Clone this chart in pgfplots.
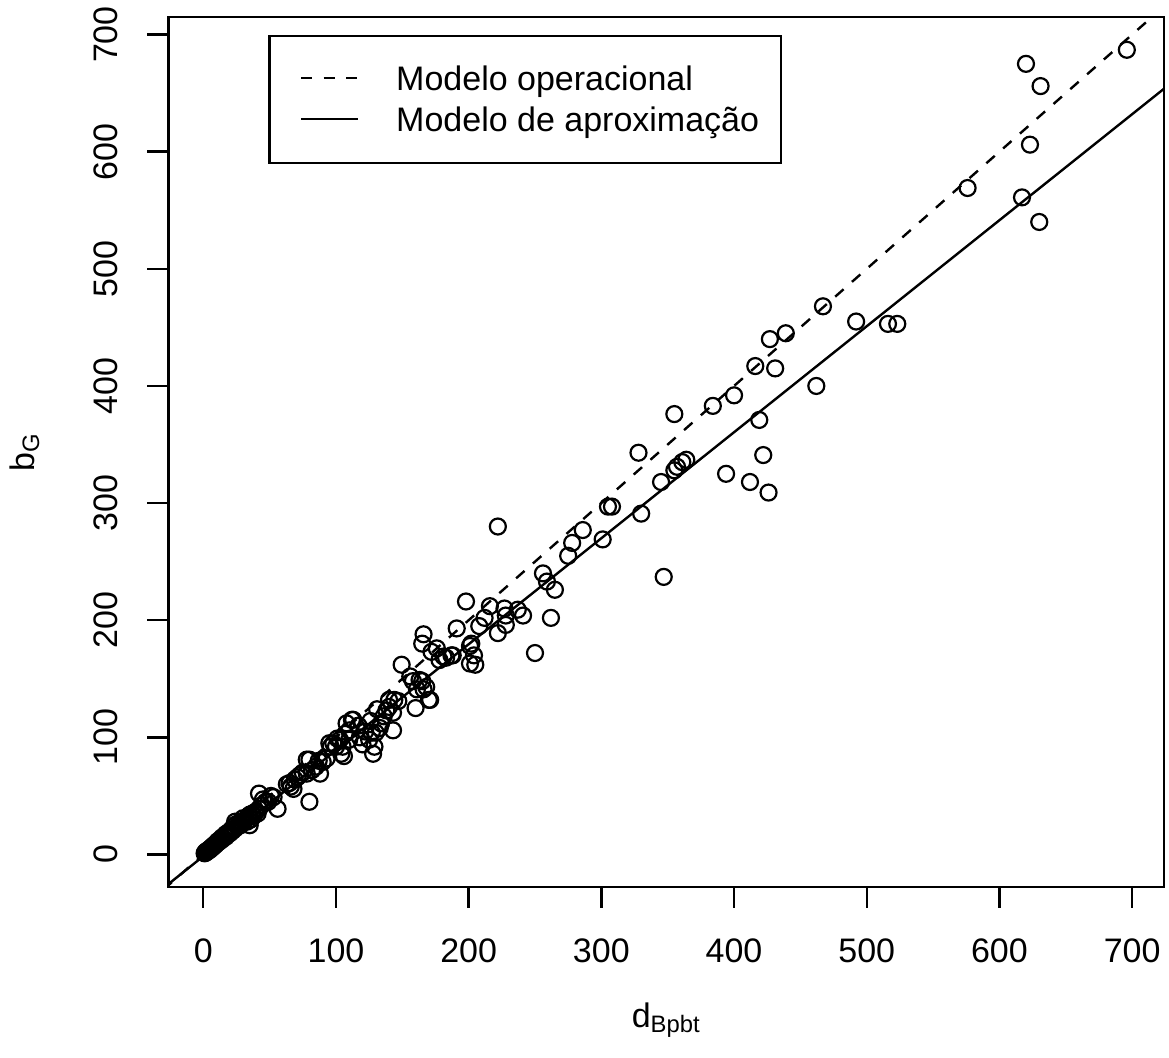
\documentclass[border=0pt]{standalone}
\usepackage{fontspec}
\setmainfont{Liberation Sans}
\usepackage{pgfplots}
\pgfplotsset{compat=1.18}
\usepackage{pgfplotstable}

% observed pairs (d_Bpbt, b_G)
\pgfplotstableread{
x y
1 1
1.5 2
2 1.5
2.5 3
3 2.5
3.5 3.5
4 4
4.5 3.5
5 5
5.5 4.5
6 6
6.5 5.5
7 7
7.5 6.5
8 8
8.5 7.5
9 9
9.5 8.5
10 10
11 10
11 11.5
12 11
13 13
14 12.5
14 14.5
15 14
16 16
17 15
17 17.5
18 17
19 19
20 18
21 21
22 20
23 24
24 22
24 28
25 26
26 24
27 27
28 25
29 28
30 31
31 29
32 30
33 28
34 32
35 25
35 34
36 30
37 35
38 33
39 36
40 37
41 35
42 39
44 42
45 47
47 45
49 45
51 50
42 52
53 49
56 39
63 60
65 61
66 58
68 56
69 64
71 66
73 68
75 70
78 69
78 81
80 45
80 81
82 72
85 75
87 80
88 69
90 79
93 82
95 95
96 92
98 95
100 92
101 99
103 98
104 86
105 92
106 84
107 103
108 112
110 106
110 98
112 115
113 115
117 110
118 100
120 94
122 105
125 98
126 114
127 104
128 86
129 92
130 104
131 124
133 108
134 112
136 118
138 123
140 126
140 132
143 106
143 121
144 132
147 131
149.5 162
156 152
158 148
160 125
161 141
163 149
165 148
165 180
166 188
166 141
168 143
170 132
171 132
172 173
176 176
178 166
181 169
183 168
187 170
188 170
191 193
198 216
201 178
201 163
202 180
204 170
205 162
208 195
212 202
216 212
222 189
222 280
227 210
228 204
228 196
237 209
241 204
250 172
256 240
259 233
262 202
265 226
275 255
278 266
286 277
301 269
305 297
308 297
328 343
330 291
345 318
347 237
355 376
355 328
357 331
361 335
364 337
384 383
394 325
400 392
412 318
416 417
419 371
422 341
426 309
427 440
431 415
439 445
462 400
467 468
492 455
516 453
523 453
576 569
617 561
620 675
623 606
630 540
631 656
696 687
}\bgdata

\begin{document}
\fontsize{17}{20}\selectfont
\begin{tikzpicture}
\begin{axis}[
    at={(0pt,0pt)}, anchor=south west,
    scale only axis,
    width=497.75pt, height=434.85pt,
    xmin=-26.2, xmax=724,
    ymin=-27.5, ymax=715,
    xtick={0,100,...,700},
    ytick={0,100,...,700},
    xtick pos=bottom, ytick pos=left,
    tick align=outside,
    major tick length=10.5pt,
    every tick/.style={black, line width=1.2pt},
    axis line style={line width=1.2pt},
    /pgf/number format/assume math mode=true,
    ticklabel style={font=\fontsize{17}{20}\selectfont},
    xticklabel style={anchor=base},
    xticklabel shift=27.25pt,
    yticklabel style={rotate=90, anchor=base},
    yticklabel shift=15.15pt,
    xlabel={d\textsubscript{Bpbt}},
    ylabel={b\textsubscript{G}},
    xlabel style={at={(axis description cs:0.5,-0.1614)}, anchor=base},
    ylabel style={at={(axis description cs:-0.1351,0.5)}, anchor=base, rotate=0},
    legend style={
        at={(axis description cs:0.1003,0.9793)}, anchor=north west,
        draw=black, line width=1.2pt,
        inner xsep=11pt, inner ysep=11.7pt,
        row sep=1pt, column sep=0pt,
        font=\fontsize{17}{20}\selectfont,
        nodes={inner sep=0pt, text height=15.4pt, text depth=4.1pt},
        cells={anchor=base west},
    },
    legend image code/.code={
        \path[draw=none, fill=none] (-4.85pt,6.1pt) -- (47.5pt,6.1pt);
        \draw[#1] (0pt,6.1pt) -- (28.5pt,6.1pt);
    },
]
\addplot[only marks, mark=o, mark size=4pt, line width=1.1pt, black, forget plot]
    table {\bgdata};

\addplot[black, line width=1.2pt, dash pattern=on 5.6pt off 5.6pt]
    coordinates {(-30,-30) (730,730)};
\addlegendentry{Modelo operacional}

\addplot[black, line width=1.2pt]
    coordinates {(-30,-28.65) (730,659.15)};
\addlegendentry{Modelo de aproximação}
\end{axis}
\pgfresetboundingbox
\path (-84.25pt,-85.15pt) rectangle (500.25pt,443.35pt);
\end{tikzpicture}
\end{document}
